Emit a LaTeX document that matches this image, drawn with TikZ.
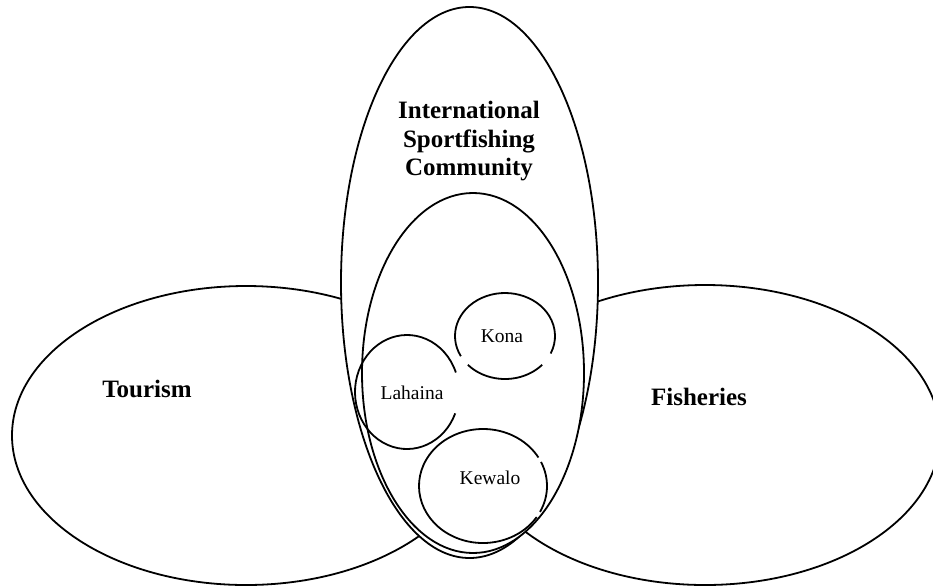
\documentclass[tikz,border=0pt]{standalone}
\usepackage{fontspec}
\setmainfont{Liberation Serif}
\begin{document}
\begin{tikzpicture}[x=1pt,y=-1pt,
  shapeline/.style={draw=black,line width=1.8pt},
  biglabel/.style={inner sep=0pt,font=\fontsize{25}{28.3}\selectfont\bfseries,align=center},
  smalllabel/.style={inner sep=0pt,anchor=base,font=\fontsize{19.5}{22}\selectfont}]
\useasboundingbox (0,0) rectangle (933,587);
% side ellipses
\draw[shapeline] (246,435.5) ellipse [x radius=234, y radius=149.5];
\draw[shapeline] (705,435) ellipse [x radius=235, y radius=150];
% central ellipses
\draw[shapeline,fill=white] (469.5,282.5) ellipse [x radius=128.5, y radius=275.5];
\draw[shapeline,fill=white] (473,373) ellipse [x radius=111, y radius=180];
% Kona
\draw[shapeline] (505,336) ++(42:50 and 43) arc [start angle=42, end angle=138, x radius=50, y radius=43];
\draw[shapeline] (505,336) ++(152:50 and 43) arc [start angle=152, end angle=384, x radius=50, y radius=43];
% Lahaina
\draw[shapeline] (407,392) ++(22:52 and 57) arc [start angle=22, end angle=340, x radius=52, y radius=57];
% Kewalo
\draw[shapeline] (483,486) ++(-25:64 and 57) arc [start angle=-25, end angle=27, x radius=64, y radius=57];
\draw[shapeline] (483,486) ++(33:64 and 57) arc [start angle=33, end angle=330, x radius=64, y radius=57];
% labels
\node[biglabel,anchor=north] (isc) at (469,101.3) {International\\Sportfishing\\Community};
\node[biglabel,anchor=base] (tourism) at (147,397) {Tourism};
\node[biglabel,anchor=base] (fisheries) at (699,405) {Fisheries};
\node[smalllabel] (kona) at (502,342) {Kona};
\node[smalllabel] (lahaina) at (412,399) {Lahaina};
\node[smalllabel] (kewalo) at (490,484) {Kewalo};
\end{tikzpicture}
\end{document}
